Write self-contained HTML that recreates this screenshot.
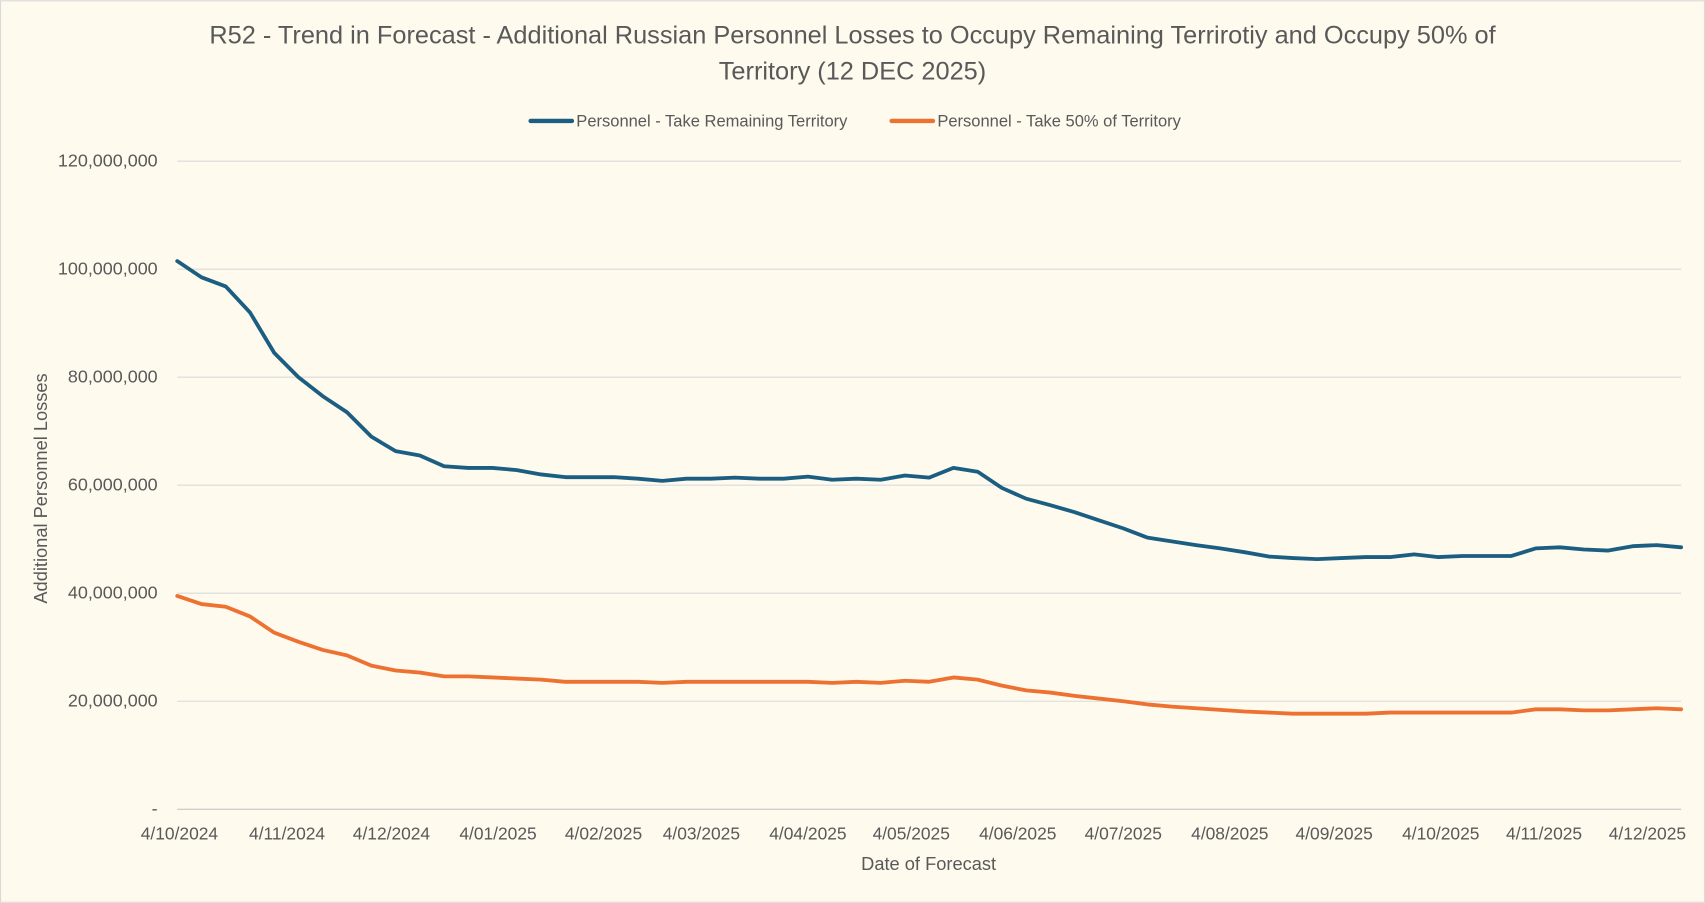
<!DOCTYPE html>
<html><head><meta charset="utf-8"><style>
html,body{margin:0;padding:0;background:#fefaee;}
svg{display:block;font-family:"Liberation Sans",sans-serif;}
</style></head><body>
<svg id="c" width="1705" height="903" viewBox="0 0 1568 830" xmlns="http://www.w3.org/2000/svg">
<rect x="0.5" y="0.5" width="1567" height="829" fill="#fefaee" stroke="#d9d9d9"/>
<text x="784" y="40" text-anchor="middle" font-size="23.3" fill="#595959">R52 - Trend in Forecast - Additional Russian Personnel Losses to Occupy Remaining Terrirotiy and Occupy 50% of</text>
<text x="784" y="73" text-anchor="middle" font-size="23.3" fill="#595959">Territory  (12 DEC 2025)</text>
<line x1="488" y1="111" x2="526" y2="111" stroke="#1b5e82" stroke-width="4" stroke-linecap="round"/>
<text x="530" y="116" font-size="15.2" fill="#595959">Personnel - Take Remaining Territory</text>
<line x1="820" y1="111" x2="858" y2="111" stroke="#ed7130" stroke-width="4" stroke-linecap="round"/>
<text x="862" y="116" font-size="15.2" fill="#595959">Personnel - Take 50% of Territory</text>
<text x="854" y="800" text-anchor="middle" font-size="16.8" fill="#595959">Date of Forecast</text>
<text transform="translate(43,449) rotate(-90)" text-anchor="middle" font-size="16.8" fill="#595959">Additional Personnel Losses</text>
<g id="grid"></g>
<g id="series"></g>
</svg>
<script>
var ns="http://www.w3.org/2000/svg";
function el(t,a,p,txt){var e=document.createElementNS(ns,t);for(var k in a)e.setAttribute(k,a[k]);if(txt)e.textContent=txt;p.appendChild(e);return e;}
var g=document.getElementById("grid"),s=document.getElementById("series");
var L=163,R=1546,T=148,B=744;
function Y(v){return B-(v/120)*(B-T);}
var labs=["-","20,000,000","40,000,000","60,000,000","80,000,000","100,000,000","120,000,000"];
for(var i=0;i<=6;i++){var y=Y(i*20);
 el("line",{x1:L,x2:R,y1:y,y2:y,stroke:i==0?"#bfbfbf":"#d9d9d9","stroke-width":1},g);
 el("text",{x:145,y:y+5,"text-anchor":"end","font-size":16.5,fill:"#595959"},g,labs[i]);}
var xl=["4/10/2024","4/11/2024","4/12/2024","4/01/2025","4/02/2025","4/03/2025","4/04/2025","4/05/2025","4/06/2025","4/07/2025","4/08/2025","4/09/2025","4/10/2025","4/11/2025","4/12/2025"];
var xp=[165,264,360,458,555,645,743,838,936,1033,1131,1227,1325,1420,1515];
for(var i=0;i<xl.length;i++){el("text",{x:xp[i],y:772,"text-anchor":"middle","font-size":16,fill:"#595959"},g,xl[i]);}
var blue=[101.5,98.5,96.8,92,84.5,80,76.5,73.5,69,66.3,65.5,63.5,63.2,63.2,62.8,62,61.5,61.5,61.5,61.2,60.8,61.2,61.2,61.4,61.2,61.2,61.6,61,61.2,61,61.8,61.4,63.2,62.5,59.5,57.5,56.3,55,53.5,52,50.3,49.6,48.9,48.3,47.6,46.8,46.5,46.3,46.5,46.7,46.7,47.2,46.7,46.9,46.9,46.9,48.3,48.5,48.1,47.9,48.7,48.9,48.5];
var org=[39.5,38,37.5,35.7,32.7,31,29.5,28.5,26.6,25.7,25.3,24.6,24.6,24.4,24.2,24,23.6,23.6,23.6,23.6,23.4,23.6,23.6,23.6,23.6,23.6,23.6,23.4,23.6,23.4,23.8,23.6,24.4,24,22.9,22,21.6,21,20.5,20,19.4,19,18.7,18.4,18.1,17.9,17.7,17.7,17.7,17.7,17.9,17.9,17.9,17.9,17.9,17.9,18.5,18.5,18.3,18.3,18.5,18.7,18.5];
function pl(d,c){var n=d.length,p=[];for(var i=0;i<n;i++)p.push((L+(R-L)*i/(n-1)).toFixed(1)+","+Y(d[i]).toFixed(1));
 el("polyline",{points:p.join(" "),fill:"none",stroke:c,"stroke-width":3.5,"stroke-linejoin":"round","stroke-linecap":"round"},s);}
pl(org,"#ed7130");pl(blue,"#1b5e82");
</script>
</body></html>
